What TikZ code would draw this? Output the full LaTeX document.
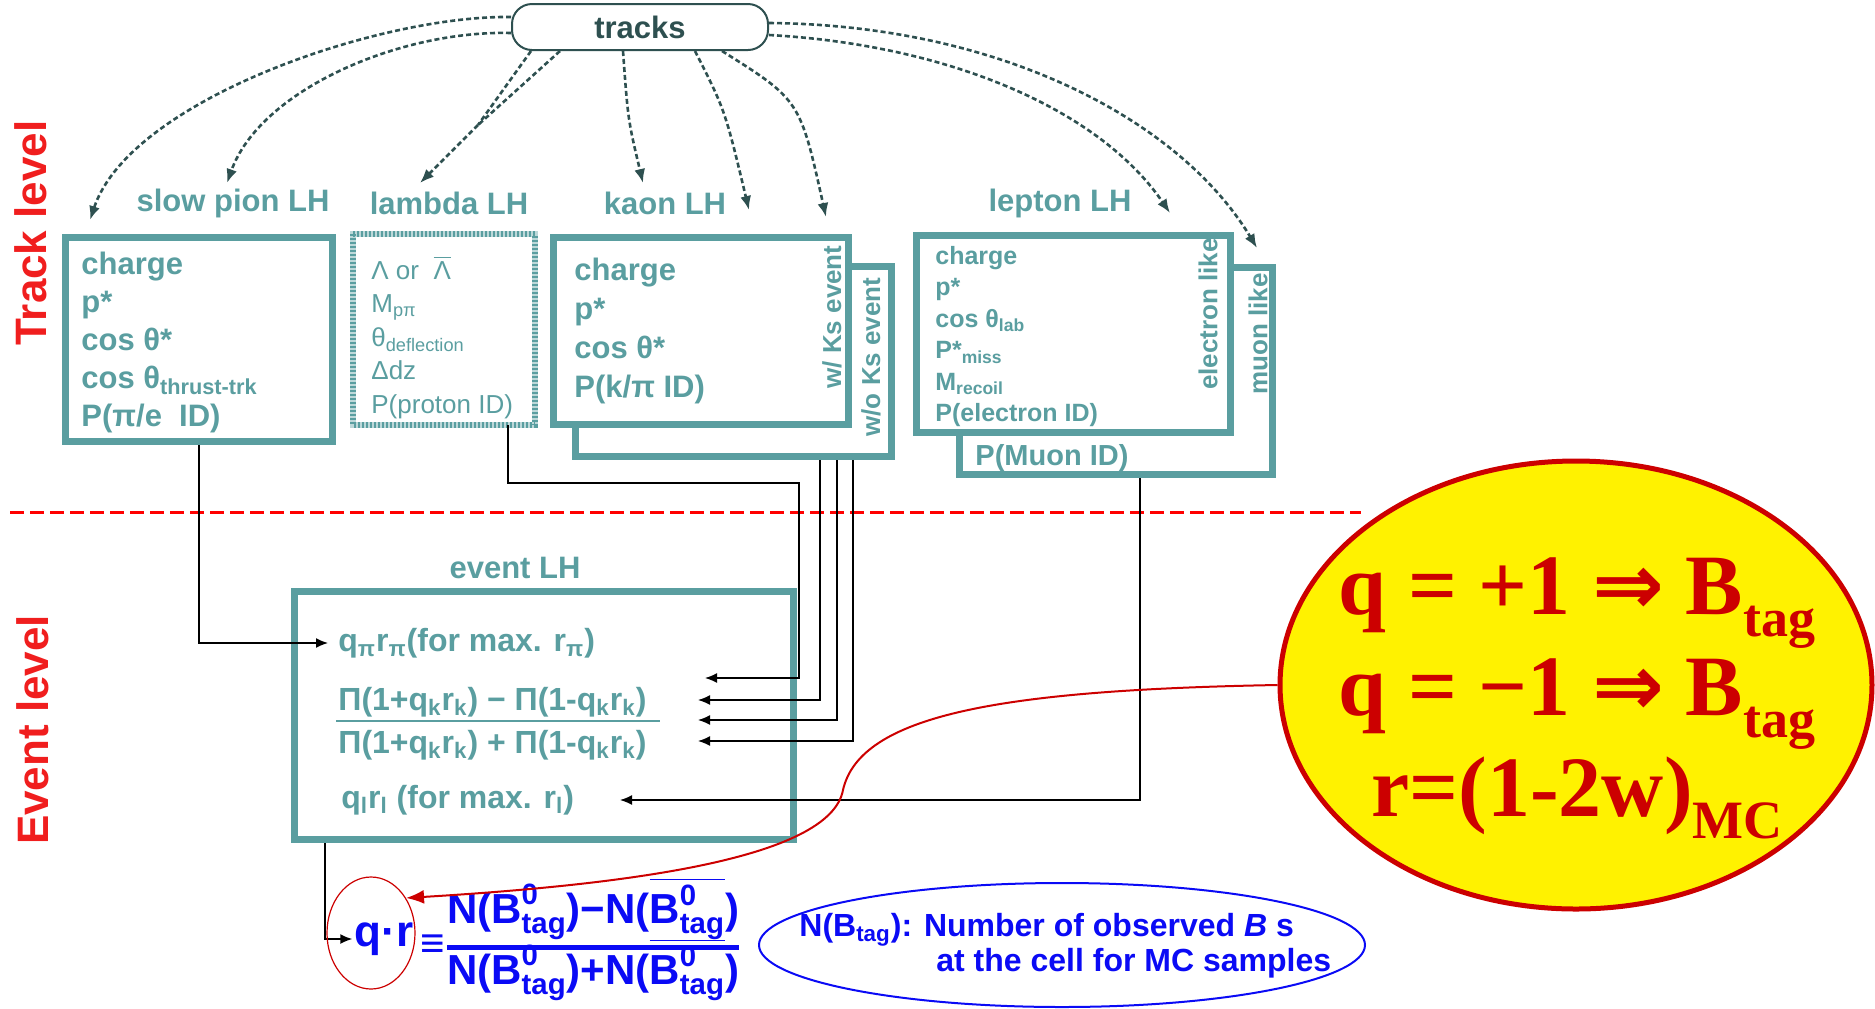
\documentclass[tikz,border=0pt]{standalone}
\usepackage{fontspec}
\usepackage{amsmath}
\setmainfont{Liberation Sans}
\newfontfamily\timesbf{Liberation Serif}
\newfontfamily\arrowfont{DejaVu Sans}
\usetikzlibrary{arrows.meta,positioning,fit,shapes.geometric}
\definecolor{lhteal}{RGB}{90,158,160}
\definecolor{darkslate}{RGB}{46,80,80}
\definecolor{labelred}{RGB}{240,30,30}
\definecolor{darkred}{RGB}{204,0,0}
\definecolor{noteblue}{RGB}{10,10,245}

\begin{document}
\begin{tikzpicture}[x=0.5pt,y=-0.5pt,>={Latex[length=6pt,width=5pt]},
  lhbox/.style={draw=lhteal,line width=3.5pt,fill=white,inner sep=0pt},
  lhlabel/.style={text=lhteal,font=\bfseries\fontsize{15.5}{18}\selectfont},
  varlist/.style={text=lhteal,align=left,inner sep=0pt,anchor=north west},
  sidetag/.style={text=lhteal,rotate=90,inner sep=0pt,font=\bfseries\fontsize{13}{15}\selectfont},
  levelname/.style={text=labelred,rotate=90,inner sep=0pt,font=\bfseries\fontsize{22}{24}\selectfont},
  evline/.style={anchor=west,inner sep=0pt,text=lhteal,font=\bfseries\fontsize{16}{19}\selectfont},
  feed/.style={-{Latex[length=7pt,width=5.5pt]},darkslate,line width=1.3pt,dash pattern=on 2.5pt off 1.5pt},
  wire/.style={->,black,line width=0.75pt}]

\useasboundingbox (0,0) rectangle (1875,1008);

\node[levelname] (tracklevel) at (31,233) {Track level};
\node[levelname] (eventlevel) at (33,730) {Event level};
\draw[red,line width=1.5pt,dash pattern=on 7pt off 3pt] (10,512) -- (1361,512);

\node[draw=darkslate,line width=1pt,rounded corners=10pt,minimum width=128pt,minimum height=23pt,
  text=darkslate,font=\bfseries\fontsize{15.5}{18}\selectfont] (tracks) at (640,27) {tracks};

\node[lhlabel] (splabel) at (233,203) {slow pion LH};
\node[lhlabel] (lamlabel) at (449,203) {lambda LH};
\node[lhlabel] (klabel) at (665,203) {kaon LH};
\node[lhlabel] (leplabel) at (1060,203) {lepton LH};
\node[lhlabel] (evlabel) at (515,568) {event LH};

\node[lhbox,fit={(65.5,237.5) (332.5,441.5)}] (spbox) {};
\node[fit={(353,234) (535,425)},inner sep=0pt,outer sep=0pt,draw=lhteal!40,line width=3pt] (lbox) {};
\draw[lhteal,line width=3pt,dash pattern=on 1pt off 1pt] (lbox.north west) rectangle (lbox.south east);
\node[lhbox,fit={(575.5,266.5) (891.5,456.5)}] (kback) {};
\node[lhbox,fit={(553.5,237.5) (848.5,424.5)}] (kbox) {};
\node[lhbox,fit={(959.5,267.5) (1272.5,474.5)}] (lback) {};
\node[lhbox,fit={(916.5,235.5) (1230.5,432.5)}] (lepbox) {};
\node[lhbox,fit={(294.5,591.5) (793.5,839.5)}] (evbox) {};

\node[varlist,font=\bfseries\fontsize{15.5}{19}\selectfont] (spvars) at (81,252)
  {charge\\p*\\cos θ*\\cos θ\textsubscript{thrust-trk}\\P(π/e\ \ ID)};
\node[varlist,font=\fontsize{13}{16.75}\selectfont] (lamvars) at (371,256)
  {Λ or\ \ $\overline{\text{Λ}}$\\M\textsubscript{pπ}\\θ\textsubscript{deflection}\\Δdz\\P(proton ID)};
\node[varlist,font=\bfseries\fontsize{15.5}{19.5}\selectfont] (kvars) at (574,258)
  {charge\\p*\\cos θ*\\P(k/π ID)};
\node[varlist,font=\bfseries\fontsize{12.5}{15.7}\selectfont] (lepvars) at (935,246)
  {charge\\p*\\cos θ\textsubscript{lab}\\P*\textsubscript{miss}\\M\textsubscript{recoil}\\P(electron ID)};
\node[anchor=west,inner sep=0pt,text=lhteal,font=\bfseries\fontsize{14.5}{17}\selectfont] (muonid) at (975,458) {P(Muon ID)};

\node[sidetag] (withks) at (832,317) {w/ Ks event};
\node[sidetag] (withoutks) at (871,357) {w/o Ks event};
\node[sidetag] (elike) at (1208,314) {electron like};
\node[sidetag] (mulike) at (1258,334) {muon like};

\node[evline] (qpi) at (338,643) {q\textsubscript{π}r\textsubscript{π}(for max. r\textsubscript{π})};
\node[evline,anchor=base west] (knum) at (338,710) {Π(1+q\textsubscript{k}r\textsubscript{k}) − Π(1-q\textsubscript{k}r\textsubscript{k})};
\node[evline,anchor=base west] (kden) at (338,753) {Π(1+q\textsubscript{k}r\textsubscript{k}) + Π(1-q\textsubscript{k}r\textsubscript{k})};
\draw[lhteal,line width=1pt] (336,721) -- (660,721);
\node[evline] (qlep) at (341,800) {q\textsubscript{l}r\textsubscript{l} (for max. r\textsubscript{l})};

\coordinate (spA) at (90,220);
\coordinate (spB) at (227,183);
\coordinate (lamsplit) at (478,125);
\coordinate (lamA) at (420,183);
\coordinate (kA) at (643,183);
\coordinate (kB) at (749,210);
\coordinate (kC) at (826,217);
\coordinate (lepA) at (1170,213);
\coordinate (muA) at (1257,248);

\draw[feed] ([yshift=5pt]tracks.west) .. controls (380,15) and (130,100) .. (spA);
\draw[feed] ([yshift=-3pt]tracks.west) .. controls (400,30) and (260,90) .. (spB);
\draw[feed,-] ([xshift=-54.5pt]tracks.south) -- (lamsplit);
\draw[feed,-] ([xshift=-40pt]tracks.south) -- (lamsplit);
\draw[feed] (lamsplit) -- (lamA);
\draw[feed] ([xshift=-8.5pt]tracks.south) .. controls (628,120) .. (kA);
\draw[feed] ([xshift=27.5pt]tracks.south) .. controls (725,110) .. (kB);
\draw[feed] ([xshift=41pt]tracks.south) .. controls (800,100) .. (kC);
\draw[feed] ([yshift=-4pt]tracks.east) .. controls (950,45) and (1100,110) .. (lepA);
\draw[feed] ([yshift=2pt]tracks.east) .. controls (1000,25) and (1180,120) .. (muA);

\coordinate (lamin) at (705,678);
\coordinate (lepin) at (620,800);
\draw[wire] (spbox.south) |- ([xshift=-5pt]qpi.west);
\draw[wire] ([xshift=32pt]lbox.south) |- (799,483) |- (lamin);
\foreach \dx/\y [count=\i] in {43.25/700,51.75/720,59.75/741}{
  \coordinate (kin\i) at (698,\y);
  \draw[wire] ([xshift=\dx pt]kback.south) |- (kin\i);
}
\draw[wire] ([xshift=12pt]lback.south) |- (lepin);

\node[text=noteblue,inner sep=1pt,font=\bfseries\fontsize{22}{26}\selectfont] (qr) at (384,939) {q·r};
\node[right=2pt of qr,inner sep=0pt,text=noteblue,font=\bfseries\fontsize{21}{25}\selectfont] (nfrac)
  {≡$\genfrac{}{}{2.5pt}{1}
  {\textstyle\smash[b]{\text{N(B}^{\text{0}}_{\text{tag}}\text{)−N(}\overline{\text{B}^{\text{0}}_{\text{tag}}}\text{)}}\rule[-8pt]{0pt}{0pt}}
  {\textstyle\smash[t]{\text{N(B}^{\text{0}}_{\text{tag}}\text{)+N(}\overline{\text{B}^{\text{0}}_{\text{tag}}}\text{)}}\rule{0pt}{15pt}}$};
\draw[wire] ([xshift=-109.5pt]evbox.south) |- (qr.west);
\node[ellipse,draw=darkred,line width=0.6pt,minimum width=44pt,minimum height=56pt,inner sep=0pt] (qrring) at (371,933) {};

\node[ellipse,draw=noteblue,line width=1pt,minimum width=303pt,minimum height=62pt,inner sep=0pt] (noteell) at (1062,945) {};
\node[anchor=west,align=left,inner sep=0pt,text=noteblue,font=\bfseries\fontsize{16}{17.5}\selectfont] (note) at (799,946)
  {N(B\textsubscript{tag}): Number of observed \textit{B} s\\\hspace*{68.5pt}at the cell for MC samples};

\node[ellipse,draw=darkred,line width=2.5pt,fill=yellow,minimum width=296pt,minimum height=224pt,inner sep=0pt] (yel) at (1576,685) {};
\node[align=center,inner sep=0pt,text=darkred,font=\timesbf\bfseries\fontsize{43}{50.5}\selectfont] (yeltext) at (1577,698)
  {q = +1 {\arrowfont ⇒} B\raisebox{-11pt}{\fontsize{27}{30}\selectfont tag}\\
   q = −1 {\arrowfont ⇒} B\raisebox{-11pt}{\fontsize{27}{30}\selectfont tag}\\
   r=(1-2w)\raisebox{-11pt}{\fontsize{27}{30}\selectfont MC}};

\draw[darkred,line width=1pt,-{Latex[length=9pt,width=7pt]}] (yel.west) .. controls (1000,690) and (860,715) .. (843,790)
  .. controls (830,860) and (620,885) .. (qrring.45);

\end{tikzpicture}
\end{document}
